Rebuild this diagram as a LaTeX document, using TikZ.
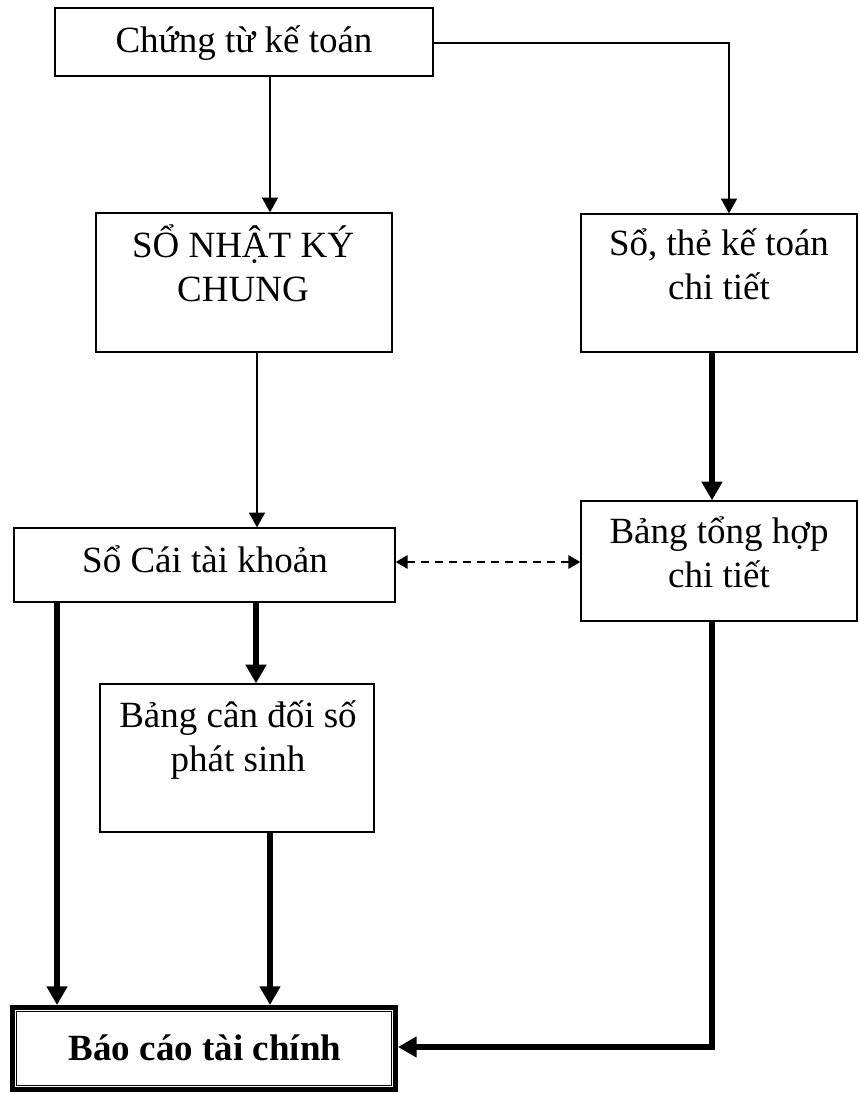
\documentclass[tikz,border=0pt]{standalone}
\usepackage{fontspec}
\setmainfont{Liberation Serif}
\usetikzlibrary{arrows.meta,fit,calc}
\begin{document}
\begin{tikzpicture}[x=0.75pt,y=-0.75pt,
  box/.style={draw, line width=1pt, inner sep=0pt, rectangle},
  txt/.style={font=\fontsize{27.75}{33}\selectfont, align=center, inner sep=0pt, anchor=base},
  thinarrow/.style={line width=0.9pt, -{Triangle[length=11pt,width=12pt]}},
  thickarrow/.style={line width=4.5pt, -{Triangle[length=14pt,width=15pt]}},
  dasharrow/.style={line width=1.5pt, dash pattern=on 6pt off 4.5pt,
    {Triangle[length=9pt,width=10pt]}-{Triangle[length=9pt,width=10pt]}}]
\useasboundingbox (0,0) rectangle (859,1094);

% boxes
\node[box, fit={(55,8) (433,76)}] (ct) {};
\node[box, fit={(96,213) (392,352)}] (nkc) {};
\node[box, fit={(581,214) (857,352)}] (sothe) {};
\node[box, fit={(14,528) (395,602)}] (socai) {};
\node[box, fit={(581,501) (857,621)}] (bth) {};
\node[box, fit={(100,684) (374,832)}] (bcd) {};
\node[draw, line width=3.4pt, inner sep=0pt, fit={(12.25,1007.25) (395.75,1089.75)}] (bctc) {};
\draw[line width=0.8pt] ([shift={(6.25,6.25)}]bctc.north west) rectangle ([shift={(-6.25,-6.25)}]bctc.south east);

% texts (base anchor sits on the last line)
\node[txt] (ctt) at (244,53) {Chứng từ kế toán};
\node[txt] (nkct) at (243,302) {SỔ NHẬT KÝ\\CHUNG};
\node[txt] (sothet) at (719,300) {Sổ, thẻ kế toán\\chi tiết};
\node[txt] (socait) at (205,572) {Sổ Cái tài khoản};
\node[txt] (btht) at (719,587) {Bảng tổng hợp\\chi tiết};
\node[txt] (bcdt) at (238,771) {Bảng cân đối số\\phát sinh};
\node[txt, font=\fontsize{27.75}{33}\selectfont\bfseries] (bctct) at (205,1060) {Báo cáo tài chính};

% connectors
\draw[thinarrow] (ct.south -| 270,0) -- (nkc.north -| 270,0);
\draw[thinarrow] (ct.east |- 0,43) -| (sothe.north -| 729,0);
\draw[thinarrow] (nkc.south -| 257,0) -- (socai.north -| 257,0);
\draw[thickarrow] (sothe.south -| 712,0) -- (bth.north -| 712,0);
\draw[dasharrow] (socai.east |- 0,562) -- (bth.west |- 0,562);
\draw[thickarrow] (socai.south -| 256,0) -- (bcd.north -| 256,0);
\draw[thickarrow] (socai.south -| 57,0) -- (bctc.north -| 57,0);
\draw[thickarrow] (bcd.south -| 270,0) -- (bctc.north -| 270,0);
\draw[thickarrow] (bth.south -| 712,0) |- (bctc.east |- 0,1047);
\end{tikzpicture}
\end{document}
